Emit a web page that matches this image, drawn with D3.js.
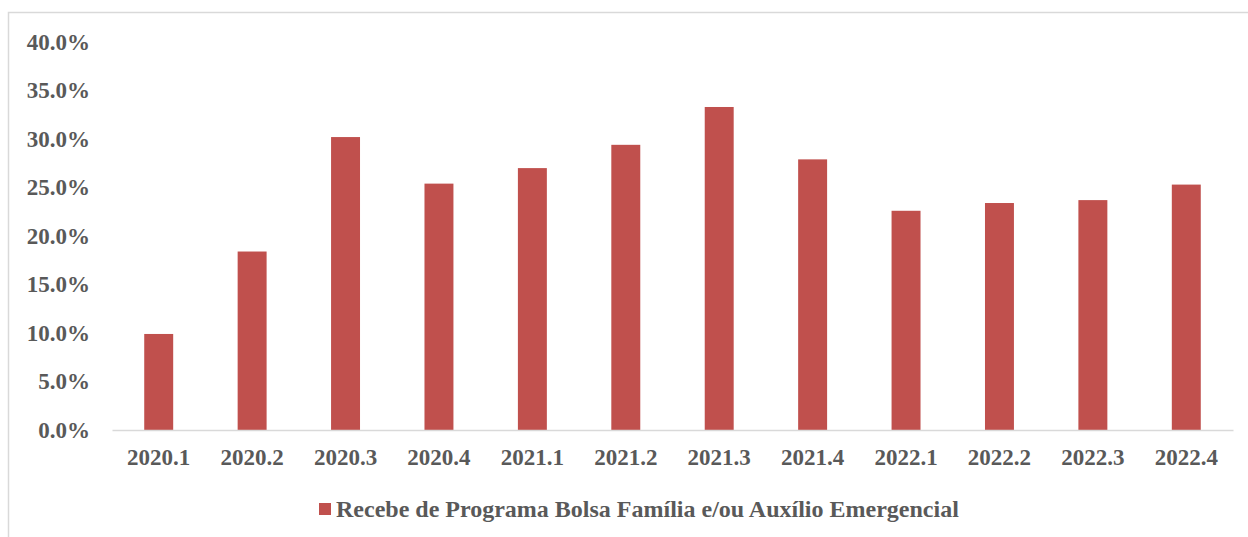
<!DOCTYPE html>
<html>
<head>
<meta charset="utf-8">
<script src="https://cdn.jsdelivr.net/npm/d3@7"></script>
<style>
  body { margin: 0; background: #fff; }
  svg text { font-family: "Liberation Serif", "Times New Roman", serif; font-weight: bold; fill: #595959; }
</style>
</head>
<body>
<div id="chart"></div>
<script>
// categories (quarters) and values
var quarters = ['2020.1', '2020.2', '2020.3', '2020.4', '2021.1', '2021.2',
  '2021.3', '2021.4', '2022.1', '2022.2', '2022.3', '2022.4'];
var shareReceiving = [9.9, 18.4, 30.2, 25.4, 27.0, 29.4, 33.3, 27.9, 22.6, 23.4, 23.7, 25.3];
var yTicks = [0, 5, 10, 15, 20, 25, 30, 35, 40];
var seriesName = 'Recebe de Programa Bolsa Família e/ou Auxílio Emergencial';

var svgWidth = 1248;
var svgHeight = 537;
var margin = { top: 42, right: 15, bottom: 107, left: 112 };
var width = svgWidth - margin.left - margin.right;
var height = svgHeight - margin.top - margin.bottom;

var svg = d3.select('#chart')
  .append('svg')
  .attr('width', svgWidth)
  .attr('height', svgHeight);

// chart frame (only top and left edges show in the crop)
svg.append('rect')
  .attr('x', 8.5)
  .attr('y', 12.5)
  .attr('width', svgWidth + 20)
  .attr('height', svgHeight + 20)
  .attr('fill', 'none')
  .attr('stroke', '#d9d9d9')
  .attr('stroke-width', 1.5);

var chartGroup = svg.append('g')
  .attr('transform', `translate(${margin.left}, ${margin.top})`);

var xScale = d3.scaleBand()
  .domain(quarters)
  .range([0, width])
  .paddingInner(0.69)
  .paddingOuter(0.345);

var yScale = d3.scaleLinear()
  .domain([0, 40])
  .range([height, 0]);

// y axis labels, no line
var leftAxis = d3.axisLeft(yScale)
  .tickValues(yTicks)
  .tickSize(0)
  .tickPadding(22)
  .tickFormat(d => d.toFixed(1) + '%');

chartGroup.append('g')
  .call(leftAxis)
  .call(g => g.select('.domain').remove())
  .selectAll('text')
  .attr('font-size', 23)
  .attr('font-family', null);

// bars
chartGroup.selectAll('.bar')
  .data(shareReceiving)
  .enter()
  .append('rect')
  .attr('class', 'bar')
  .attr('x', (d, i) => xScale(quarters[i]))
  .attr('y', d => yScale(d))
  .attr('width', xScale.bandwidth())
  .attr('height', d => height - yScale(d))
  .attr('fill', '#c0504d');

// x axis
var bottomAxis = d3.axisBottom(xScale)
  .tickSize(0)
  .tickPadding(19);

var xAxis = chartGroup.append('g')
  .attr('transform', `translate(0, ${height})`)
  .call(bottomAxis);

xAxis.select('.domain')
  .attr('stroke', '#d9d9d9')
  .attr('stroke-width', 1.5);

xAxis.selectAll('text')
  .attr('font-size', 23)
  .attr('font-family', null);

// legend
var legend = svg.append('g')
  .attr('transform', 'translate(319, 503)');

legend.append('rect')
  .attr('width', 12)
  .attr('height', 12)
  .attr('fill', '#c0504d');

legend.append('text')
  .attr('x', 17)
  .attr('y', 6)
  .attr('dy', '0.35em')
  .attr('font-size', 24)
  .text(seriesName);
</script>
</body>
</html>
